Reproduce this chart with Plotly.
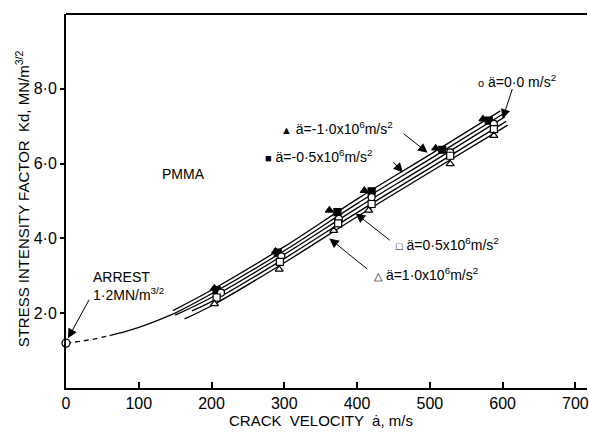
import plotly.graph_objects as go

# ---------------- data ----------------
series_names = ["ä=-1·0x10<sup>6</sup>m/s<sup>2</sup>",
                "ä=-0·5x10<sup>6</sup>m/s<sup>2</sup>",
                "ä=0·0 m/s<sup>2</sup>",
                "ä=0·5x10<sup>6</sup>m/s<sup>2</sup>",
                "ä=1·0x10<sup>6</sup>m/s<sup>2</sup>"]
series_glyphs = ["▲", "■", "o", "□", "△"]

# measured points: crack velocity (m/s) and K (MN/m^3/2)
v_m10 = [204, 288, 362, 410, 508, 573]
k_m10 = [2.67, 3.65, 4.75, 5.28, 6.41, 7.19]
v_m05 = [207, 291, 373, 420, 517, 581]
k_m05 = [2.62, 3.62, 4.70, 5.26, 6.37, 7.15]
v_p00 = [213, 296, 375, 420, 528, 588]
k_p00 = [2.55, 3.52, 4.52, 5.10, 6.30, 7.06]
v_p05 = [207, 294, 374, 420, 528, 588]
k_p05 = [2.42, 3.37, 4.40, 4.92, 6.21, 6.92]
v_p10 = [204, 293, 368, 416, 528, 588]
k_p10 = [2.25, 3.17, 4.21, 4.75, 5.99, 6.75]

# fitted curves for each acceleration
fv_m10 = [147, 200, 300, 400, 500, 597]
fk_m10 = [2.07, 2.62, 3.78, 5.05, 6.24, 7.41]
fv_m05 = [150, 200, 300, 400, 500, 600]
fk_m05 = [2.00, 2.52, 3.67, 4.93, 6.12, 7.32]
fv_p00 = [150, 200, 300, 400, 500, 603]
fk_p00 = [1.95, 2.42, 3.57, 4.81, 6.00, 7.25]
fv_p05 = [173, 200, 300, 400, 500, 605]
fk_p05 = [2.06, 2.31, 3.46, 4.69, 5.88, 7.13]
fv_p10 = [163, 200, 300, 400, 500, 607]
fk_p10 = [1.85, 2.20, 3.35, 4.58, 5.77, 7.03]

# low-velocity branch down to arrest
dash_v = [0, 20, 40, 60]
dash_k = [1.20, 1.25, 1.315, 1.40]
solid_v = [60, 80, 100, 120, 150]
solid_k = [1.40, 1.50, 1.62, 1.76, 2.00]
arrest_v = [0]
arrest_k = [1.2]

x_ticks = [0, 100, 200, 300, 400, 500, 600, 700]
y_ticks = [2, 4, 6, 8]
y_ticktext = ["2·0", "4·0", "6·0", "8·0"]

FONT = "Liberation Sans, Arial, sans-serif"

fig = go.Figure()

fits = [(fv_m10, fk_m10), (fv_m05, fk_m05), (fv_p00, fk_p00),
        (fv_p05, fk_p05), (fv_p10, fk_p10)]
for fv, fk in fits:
    fig.add_trace(go.Scatter(x=fv, y=fk, mode="lines", line_shape="spline",
                             line=dict(color="black", width=1.3),
                             showlegend=False, hoverinfo="skip"))

fig.add_trace(go.Scatter(x=dash_v, y=dash_k, mode="lines", line_shape="spline",
                         line=dict(color="black", width=1.3, dash="5px,4px"),
                         showlegend=False))
fig.add_trace(go.Scatter(x=solid_v, y=solid_k, mode="lines", line_shape="spline",
                         line=dict(color="black", width=1.3),
                         showlegend=False))

pts = [(v_m10, k_m10, "triangle-up", "black"),
       (v_m05, k_m05, "square", "black"),
       (v_p00, k_p00, "circle", "white"),
       (v_p05, k_p05, "square", "white"),
       (v_p10, k_p10, "triangle-up", "white")]
for (v, k, sym, fill), name in zip(pts, series_names):
    fig.add_trace(go.Scatter(x=v, y=k, mode="markers", name=name,
                             marker=dict(symbol=sym, size=7, color=fill,
                                         line=dict(color="black", width=1.2)),
                             showlegend=False))

fig.add_trace(go.Scatter(x=arrest_v, y=arrest_k, mode="markers", cliponaxis=False,
                         marker=dict(symbol="circle", size=8, color="white",
                                     line=dict(color="black", width=1.3)),
                         showlegend=False))

ann = []
def label(x, y, text, xanchor="left", size=14):
    ann.append(dict(x=x, y=y, xref="x", yref="y", text=text, showarrow=False,
                    xanchor=xanchor, yanchor="middle", align="left",
                    font=dict(family=FONT, size=size, color="black")))

def arrow(x, y, ax, ay):
    ann.append(dict(x=x, y=y, ax=ax, ay=ay, xref="x", yref="y", axref="x", ayref="y",
                    text="", showarrow=True, arrowhead=2, arrowsize=1.9,
                    arrowwidth=1, arrowcolor="black", standoff=0, startstandoff=0))

def glyph(i):
    return "<span style='font-size:11px'>" + series_glyphs[i] + "</span> "

label(563, 8.21, glyph(2) + series_names[2])
arrow(600, 7.2, 614, 8.03)
label(293, 6.96, glyph(0) + series_names[0])
arrow(497, 6.29, 462, 6.83)
label(271, 6.21, glyph(1) + series_names[1])
arrow(463, 5.76, 448, 6.08)
label(451, 3.84, glyph(3) + series_names[3])
arrow(398, 4.67, 447, 3.92)
label(421, 3.04, glyph(4) + series_names[4])
arrow(362, 4.0, 416, 3.15)
label(35, 2.72, "ARREST<br>1·2MN/m<sup>3/2</sup>")
arrow(2.7, 1.33, 33, 2.4)
label(162, 5.73, "PMMA", xanchor="center")

# axis titles
ann.append(dict(x=0.4895, y=-0.0856, xref="paper", yref="paper",
                text="CRACK  VELOCITY  ȧ, m/s", showarrow=False,
                xanchor="center", yanchor="middle",
                font=dict(family=FONT, size=15, color="black")))
ann.append(dict(x=-0.0841, y=0.505, xref="paper", yref="paper",
                text="STRESS INTENSITY FACTOR  Kd, MN/m<sup>3/2</sup>",
                showarrow=False, textangle=-90,
                xanchor="center", yanchor="middle",
                font=dict(family=FONT, size=15, color="black")))

fig.update_layout(
    width=589, height=432,
    margin=dict(l=66, r=0, t=14, b=44),
    paper_bgcolor="white", plot_bgcolor="white",
    annotations=ann,
    shapes=[dict(type="line", xref="paper", yref="paper", x0=0, x1=1, y0=1, y1=1,
                 line=dict(color="black", width=2))],
    xaxis=dict(range=[0, 716], showline=True, linecolor="black", linewidth=2,
               ticks="inside", ticklen=6, tickwidth=1.5, tickcolor="black",
               tickvals=x_ticks, showgrid=False, zeroline=False,
               ticklabeloverflow="allow",
               tickfont=dict(family=FONT, size=16, color="black")),
    yaxis=dict(range=[0, 10], showline=True, linecolor="black", linewidth=2,
               ticks="outside", ticklen=4, tickwidth=1.5, tickcolor="black",
               tickvals=y_ticks, ticktext=y_ticktext, showgrid=False, zeroline=False,
               tickfont=dict(family=FONT, size=16, color="black")),
)

fig.write_html("out.html", config={"displayModeBar": False},
               post_script="document.body.style.margin='0';")
